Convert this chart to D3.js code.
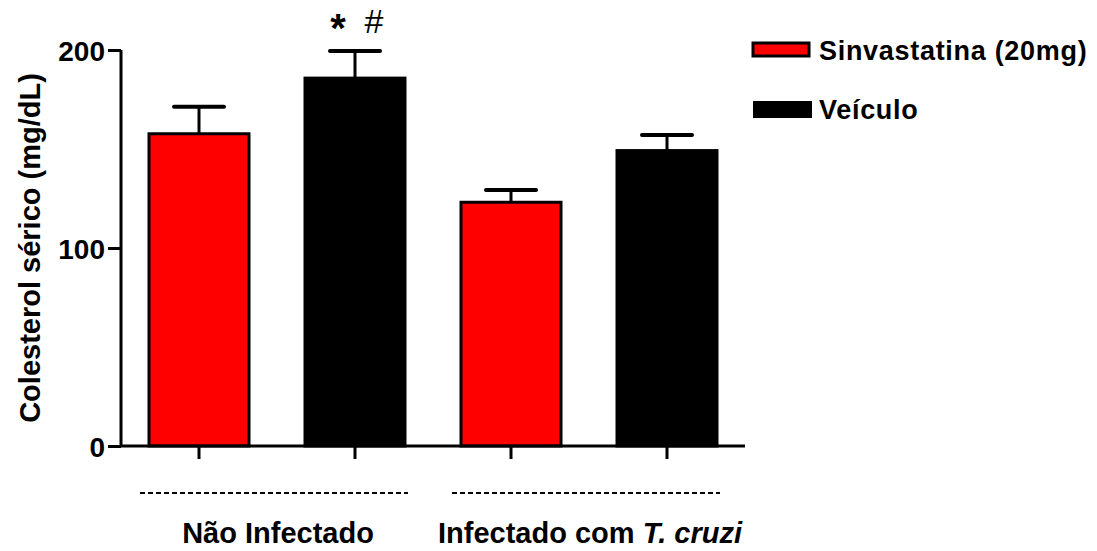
<!DOCTYPE html>
<html>
<head>
<meta charset="utf-8">
<script src="https://cdn.jsdelivr.net/npm/d3@7"></script>
<style>
  html, body { margin: 0; padding: 0; background: #fff; }
  svg { display: block; font-family: "Liberation Sans", Arial, sans-serif; }
</style>
</head>
<body>
<svg id="chart" width="1097" height="551"></svg>
<script>
// Serum cholesterol by infection status and treatment
const groups = ["Não Infectado", "Infectado com T. cruzi"];
const series = ["Sinvastatina (20mg)", "Veículo"];
const sinvastatina = [157.7, 123.1];
const sinvastatinaErr = [13.7, 6.2];
const veiculo = [185.8, 149.2];
const veiculoErr = [13.7, 7.9];
const yTicks = [0, 100, 200];
const seriesColors = ["#ff0000", "#000000"];
// significance marks above the vehicle bar of the uninfected group
const marks = [{ group: "Não Infectado", series: "Veículo", symbols: ["*", "#"] }];

const values = [sinvastatina, veiculo];
const errors = [sinvastatinaErr, veiculoErr];
const rows = [];
groups.forEach((g, gi) => series.forEach((s, si) => {
  rows.push({ group: g, series: s, value: values[si][gi], err: errors[si][gi], color: seriesColors[si] });
}));

const svg = d3.select("#chart");
const plotLeft = 121, plotRight = 745, plotTop = 50, plotBottom = 446;

const x0 = d3.scaleBand().domain(groups).range([plotLeft, plotRight]).padding(0);
const x1 = d3.scaleBand().domain(series).range([0, x0.bandwidth()])
  .paddingInner(0.359).paddingOuter(0.1795);
const y = d3.scaleLinear().domain([0, 200]).range([plotBottom, plotTop]);

const cx = d => x0(d.group) + x1(d.series) + x1.bandwidth() / 2;

// error bars (drawn first, bars cover the lower half)
const eb = svg.append("g");
eb.selectAll("line.stem").data(rows).join("line")
  .attr("x1", cx).attr("x2", cx)
  .attr("y1", d => y(d.value)).attr("y2", d => y(d.value + d.err))
  .attr("stroke", "#000").attr("stroke-width", 3);
eb.selectAll("line.cap").data(rows).join("line")
  .attr("x1", d => cx(d) - 25).attr("x2", d => cx(d) + 25)
  .attr("y1", d => y(d.value + d.err)).attr("y2", d => y(d.value + d.err))
  .attr("stroke", "#000").attr("stroke-width", 4).attr("stroke-linecap", "round");

// bars
svg.append("g").selectAll("rect").data(rows).join("rect")
  .attr("x", d => x0(d.group) + x1(d.series))
  .attr("width", x1.bandwidth())
  .attr("y", d => y(d.value))
  .attr("height", d => y(0) - y(d.value))
  .attr("fill", d => d.color)
  .attr("stroke", "#000").attr("stroke-width", 3);

// y axis
const yAxis = svg.append("g").attr("transform", `translate(${plotLeft},0)`)
  .call(d3.axisLeft(y).tickValues(yTicks).tickSize(13).tickPadding(3).tickFormat(d3.format("d")));
yAxis.select(".domain").attr("d", `M0,${plotTop}V${plotBottom}`).attr("stroke-width", 3);
yAxis.selectAll(".tick line").attr("stroke-width", 3);
yAxis.selectAll(".tick text").attr("font-size", 28).attr("font-weight", "bold")
  .attr("fill", "#000").attr("font-family", "Liberation Sans, Arial, sans-serif").attr("dy", "0.36em");

// x axis with a tick under each bar
const xAxis = svg.append("g").attr("transform", `translate(0,${plotBottom})`);
xAxis.append("line").attr("x1", plotLeft).attr("x2", plotRight).attr("y1", 0).attr("y2", 0)
  .attr("stroke", "#000").attr("stroke-width", 3);
xAxis.selectAll("line.tk").data(rows).join("line")
  .attr("x1", cx).attr("x2", cx).attr("y1", 0).attr("y2", 13)
  .attr("stroke", "#000").attr("stroke-width", 3);

// dashed group separators and group labels
const gc = g => x0(g) + x0.bandwidth() / 2;
svg.append("g").selectAll("line").data(groups).join("line")
  .attr("x1", g => gc(g) - 137).attr("x2", g => gc(g) + 131)
  .attr("y1", 493).attr("y2", 493)
  .attr("stroke", "#000").attr("stroke-width", 1.8).attr("stroke-dasharray", "5,3");

const gl = svg.append("g").selectAll("text").data(groups).join("text")
  .attr("x", g => gc(g) + 1).attr("y", 543)
  .attr("text-anchor", "middle").attr("font-size", 29).attr("font-weight", "bold");
gl.each(function (g) {
  const t = d3.select(this);
  const m = g.match(/^(.*?)(T\. cruzi)$/);
  if (m) {
    t.append("tspan").text(m[1]);
    t.append("tspan").attr("font-style", "italic").text(m[2]);
  } else {
    t.text(g);
  }
});

// y axis title
svg.append("text")
  .attr("transform", `translate(40,${(plotTop + plotBottom) / 2}) rotate(-90)`)
  .attr("text-anchor", "middle").attr("font-size", 29).attr("font-weight", "bold")
  .text("Colesterol sérico (mg/dL)");

// significance marks
marks.forEach(m => {
  const r = rows.find(d => d.group === m.group && d.series === m.series);
  const c = cx(r);
  const yy = y(r.value + r.err) - 18;
  svg.append("text").attr("x", c - 17).attr("y", yy + 9).attr("text-anchor", "middle")
    .attr("font-size", 40).attr("font-weight", "bold").text(m.symbols[0]);
  svg.append("text").attr("x", c + 19).attr("y", yy).attr("text-anchor", "middle")
    .attr("font-size", 34).text(m.symbols[1]);
});

// legend
const legend = svg.append("g");
series.forEach((s, i) => {
  const ly = 50 + i * 59;
  legend.append("rect")
    .attr("x", 753).attr("y", ly - 7 - (i ? 1 : 0))
    .attr("width", i ? 59 : 56).attr("height", i ? 17 : 13)
    .attr("fill", seriesColors[i]).attr("stroke", "#000").attr("stroke-width", i ? 0 : 3);
  legend.append("text")
    .attr("x", 819).attr("y", ly + 10)
    .attr("font-size", 27).attr("font-weight", "bold").attr("letter-spacing", 0.7)
    .text(s);
});
</script>
</body>
</html>
